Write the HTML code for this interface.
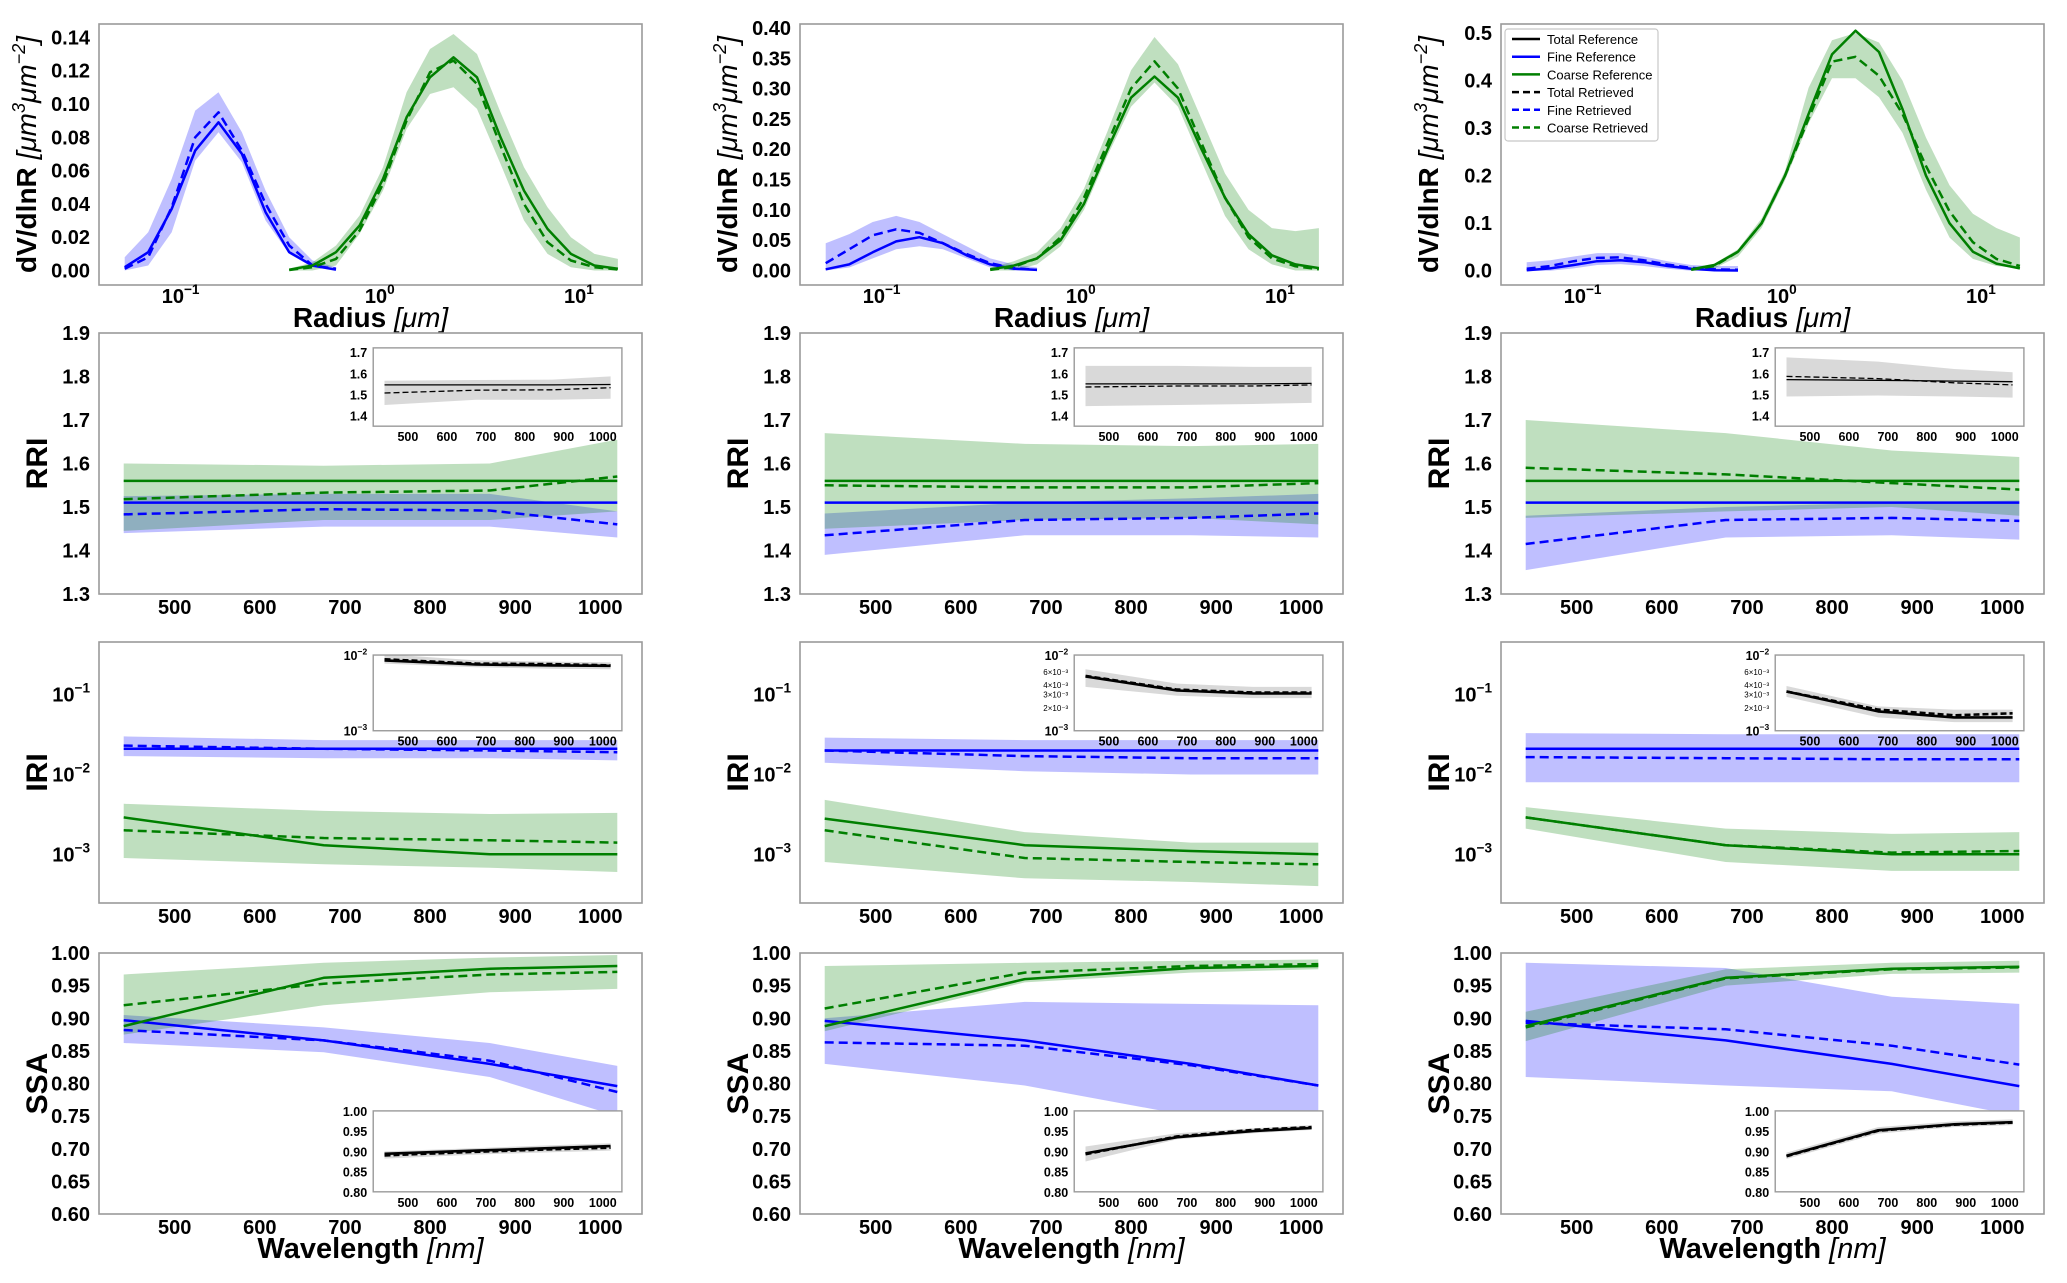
<!DOCTYPE html>
<html><head><meta charset="utf-8"><style>
html,body{margin:0;padding:0;background:#fff;}
svg{display:block;font-family:"Liberation Sans","DejaVu Sans",sans-serif;}
</style></head>
<body>
<svg id="fig" width="2067" height="1283" viewBox="0 0 2067 1283" xmlns="http://www.w3.org/2000/svg"></svg>
<script>
// ---------- data ----------
const radiiFine=[0.05,0.0656,0.0861,0.113,0.148,0.194,0.255,0.335,0.439,0.576];
const radiiCoarse=[0.335,0.439,0.576,0.756,0.992,1.302,1.708,2.241,2.94,3.857,5.061,6.641,8.713,11.43,15.0];
const wavelengths=[440,675,870,1020];
const sdYMax=[0.148,0.4065,0.519];
const sdYMin=[-0.0087,-0.0239,-0.03];
const sdYTicks=[[0,0.02,0.04,0.06,0.08,0.10,0.12,0.14],[0,0.05,0.10,0.15,0.20,0.25,0.30,0.35,0.40],[0,0.1,0.2,0.3,0.4,0.5]];
const sdYTickLabels=[["0.00","0.02","0.04","0.06","0.08","0.10","0.12","0.14"],["0.00","0.05","0.10","0.15","0.20","0.25","0.30","0.35","0.40"],["0.0","0.1","0.2","0.3","0.4","0.5"]];
const sdFineRef=[[0.002,0.011,0.037,0.072,0.089,0.070,0.035,0.011,0.003,0.0005],[0.002,0.01,0.03,0.048,0.055,0.045,0.025,0.01,0.003,0.001],[0.001,0.005,0.012,0.02,0.022,0.018,0.01,0.004,0.001,0.0005]];
const sdFineRet=[[0.001,0.008,0.038,0.080,0.095,0.072,0.040,0.015,0.003,0.001],[0.012,0.035,0.058,0.068,0.062,0.045,0.027,0.012,0.004,0.001],[0.004,0.01,0.02,0.027,0.028,0.022,0.013,0.006,0.003,0.002]];
const sdFineLo=[[0,0.003,0.023,0.066,0.083,0.065,0.03,0.01,0.002,0],[0,0.005,0.02,0.035,0.04,0.035,0.02,0.005,0,0],[0,0,0.005,0.012,0.014,0.01,0.004,0,0,0]];
const sdFineHi=[[0.008,0.023,0.055,0.096,0.107,0.083,0.048,0.02,0.006,0.002],[0.045,0.06,0.08,0.09,0.08,0.06,0.04,0.02,0.01,0.005],[0.018,0.022,0.03,0.037,0.037,0.03,0.02,0.012,0.01,0.01]];
const sdCoarseRef=[[0.0005,0.003,0.011,0.027,0.055,0.092,0.116,0.128,0.116,0.080,0.048,0.025,0.010,0.003,0.001],[0.002,0.008,0.02,0.05,0.11,0.2,0.285,0.32,0.285,0.2,0.12,0.06,0.025,0.01,0.004],[0.003,0.012,0.04,0.1,0.2,0.33,0.455,0.505,0.46,0.34,0.2,0.1,0.04,0.015,0.005]];
const sdCoarseRet=[[0.0003,0.002,0.007,0.024,0.052,0.090,0.119,0.126,0.112,0.075,0.040,0.017,0.006,0.002,0.0006],[0.001,0.006,0.02,0.055,0.12,0.21,0.3,0.345,0.3,0.21,0.12,0.055,0.02,0.007,0.002],[0.002,0.01,0.04,0.1,0.2,0.32,0.44,0.45,0.41,0.33,0.22,0.125,0.06,0.025,0.01]];
const sdCoarseLo=[[0,0,0.003,0.022,0.048,0.085,0.106,0.110,0.097,0.064,0.030,0.010,0.002,0,0],[0,0,0.01,0.04,0.1,0.19,0.27,0.31,0.27,0.18,0.09,0.035,0.01,0,0],[0,0.005,0.03,0.09,0.19,0.31,0.405,0.405,0.365,0.29,0.17,0.07,0.025,0.01,0.005]];
const sdCoarseHi=[[0.001,0.005,0.015,0.033,0.062,0.107,0.133,0.142,0.130,0.095,0.062,0.038,0.020,0.010,0.007],[0.005,0.015,0.03,0.07,0.135,0.23,0.33,0.385,0.34,0.25,0.16,0.1,0.07,0.065,0.07],[0.006,0.015,0.045,0.11,0.21,0.385,0.485,0.5,0.48,0.4,0.28,0.18,0.12,0.09,0.07]];

const rriFineRef=[[1.51,1.51,1.51,1.51],[1.51,1.51,1.51,1.51],[1.51,1.51,1.51,1.51]];
const rriFineRet=[[1.483,1.495,1.492,1.46],[1.435,1.47,1.475,1.485],[1.415,1.47,1.475,1.468]];
const rriFineLo=[[1.44,1.455,1.455,1.43],[1.39,1.435,1.435,1.43],[1.355,1.43,1.435,1.425]];
const rriFineHi=[[1.525,1.53,1.53,1.49],[1.485,1.51,1.52,1.53],[1.48,1.50,1.51,1.515]];
const rriCoarseRef=[[1.56,1.56,1.56,1.56],[1.56,1.56,1.56,1.56],[1.56,1.56,1.56,1.56]];
const rriCoarseRet=[[1.518,1.533,1.538,1.57],[1.55,1.545,1.545,1.555],[1.59,1.575,1.555,1.54]];
const rriCoarseLo=[[1.445,1.47,1.47,1.49],[1.45,1.47,1.475,1.46],[1.475,1.49,1.5,1.48]];
const rriCoarseHi=[[1.60,1.595,1.60,1.655],[1.67,1.645,1.64,1.645],[1.70,1.67,1.63,1.615]];
const rriTotRef=[[1.545,1.545,1.545,1.547],[1.55,1.55,1.55,1.552],[1.57,1.567,1.563,1.56]];
const rriTotRet=[[1.507,1.52,1.522,1.532],[1.535,1.54,1.54,1.545],[1.585,1.575,1.555,1.545]];
const rriTotLo=[[1.45,1.475,1.475,1.48],[1.445,1.45,1.455,1.46],[1.49,1.495,1.49,1.485]];
const rriTotHi=[[1.565,1.568,1.57,1.585],[1.635,1.635,1.63,1.63],[1.675,1.655,1.62,1.605]];

const iriFineRef=[[0.021,0.021,0.021,0.021],[0.02,0.02,0.02,0.02],[0.021,0.021,0.021,0.021]];
const iriFineRet=[[0.023,0.021,0.020,0.019],[0.02,0.017,0.016,0.016],[0.0165,0.016,0.0155,0.0155]];
const iriFineLo=[[0.017,0.016,0.016,0.015],[0.014,0.011,0.01,0.01],[0.008,0.008,0.008,0.008]];
const iriFineHi=[[0.03,0.027,0.027,0.027],[0.029,0.027,0.027,0.027],[0.033,0.032,0.032,0.032]];
const iriCoarseRef=[[0.0029,0.0013,0.001,0.001],[0.0028,0.0013,0.0011,0.001],[0.0029,0.0013,0.001,0.001]];
const iriCoarseRet=[[0.002,0.0016,0.0015,0.0014],[0.002,0.0009,0.0008,0.00075],[0.0029,0.0013,0.00105,0.0011]];
const iriCoarseLo=[[0.0009,0.00075,0.00068,0.0006],[0.0008,0.0005,0.00045,0.0004],[0.0021,0.0008,0.00062,0.00062]];
const iriCoarseHi=[[0.0043,0.0035,0.0032,0.0033],[0.0048,0.0019,0.0014,0.0014],[0.0039,0.0021,0.0018,0.0019]];
const iriTotRef=[[0.0085,0.0075,0.0073,0.0072],[0.0052,0.0034,0.0031,0.0031],[0.0033,0.0018,0.0015,0.0015]];
const iriTotRet=[[0.0088,0.0077,0.0076,0.0073],[0.0053,0.0035,0.0032,0.0032],[0.0033,0.0019,0.0016,0.0017]];
const iriTotLo=[[0.0077,0.0069,0.0066,0.0065],[0.0038,0.0029,0.0027,0.0027],[0.0028,0.0015,0.0013,0.0013]];
const iriTotHi=[[0.0103,0.0085,0.0082,0.008],[0.0065,0.0042,0.0038,0.0038],[0.0039,0.0021,0.0019,0.0019]];

const ssaFineRef=[[0.897,0.866,0.83,0.796],[0.896,0.866,0.83,0.797],[0.896,0.866,0.83,0.796]];
const ssaFineRet=[[0.882,0.866,0.835,0.787],[0.863,0.858,0.828,0.797],[0.893,0.883,0.858,0.829]];
const ssaFineLo=[[0.862,0.848,0.81,0.75],[0.83,0.797,0.75,0.72],[0.81,0.797,0.788,0.75]];
const ssaFineHi=[[0.905,0.886,0.862,0.827],[0.9,0.925,0.922,0.92],[0.985,0.977,0.933,0.922]];
const ssaCoarseRef=[[0.888,0.962,0.976,0.98],[0.888,0.96,0.977,0.98],[0.888,0.962,0.976,0.979]];
const ssaCoarseRet=[[0.92,0.953,0.967,0.971],[0.915,0.97,0.98,0.983],[0.886,0.961,0.975,0.978]];
const ssaCoarseLo=[[0.875,0.92,0.94,0.945],[0.88,0.955,0.97,0.975],[0.865,0.95,0.968,0.97]];
const ssaCoarseHi=[[0.967,0.985,0.993,0.997],[0.98,0.985,0.988,0.99],[0.91,0.975,0.985,0.988]];
const ssaTotRef=[[0.894,0.902,0.908,0.913],[0.895,0.935,0.95,0.958],[0.889,0.952,0.967,0.972]];
const ssaTotRet=[[0.89,0.899,0.905,0.909],[0.893,0.937,0.953,0.96],[0.888,0.951,0.966,0.971]];
const ssaTotLo=[[0.882,0.892,0.898,0.902],[0.875,0.93,0.945,0.953],[0.881,0.944,0.96,0.965]];
const ssaTotHi=[[0.9,0.908,0.915,0.92],[0.912,0.945,0.957,0.965],[0.897,0.96,0.974,0.979]];

const wlTicks=[500,600,700,800,900,1000];
const rriTicks=[1.3,1.4,1.5,1.6,1.7,1.8,1.9];
const rriInsetTicks=[1.4,1.5,1.6,1.7];
const ssaTicks=[0.60,0.65,0.70,0.75,0.80,0.85,0.90,0.95,1.00];
const ssaInsetTicks=[0.80,0.85,0.90,0.95,1.00];
const radiusTickExp=[-1,0,1];
const iriTickExp=[-1,-2,-3];
const legendLabels=["Total Reference","Fine Reference","Coarse Reference","Total Retrieved","Fine Retrieved","Coarse Retrieved"];

// ---------- drawing ----------
const NS="http://www.w3.org/2000/svg";
const svg=document.getElementById('fig');
const colX=[99,800,1501], PW=543, rowY=[24,333,642,953], PH=261;
const BLUE="#0000ff", GREEN="#007f00", BLACK="#000";
function mk(tag,attrs,parent){const e=document.createElementNS(NS,tag);for(const k in attrs)e.setAttribute(k,attrs[k]);(parent||svg).appendChild(e);return e;}
function scale(type,d0,d1,r0,r1){
  if(type==='log'){const a=Math.log10(d0),b=Math.log10(d1);return v=>r0+(Math.log10(v)-a)/(b-a)*(r1-r0);}
  return v=>r0+(v-d0)/(d1-d0)*(r1-r0);
}
function band(g,xs,lo,hi,sx,sy,color,op,name){
  const pts=xs.map((x,i)=>sx(x).toFixed(1)+","+sy(hi[i]).toFixed(1)).concat(xs.map((x,i)=>sx(x).toFixed(1)+","+sy(lo[i]).toFixed(1)).reverse());
  const p=mk('polygon',{points:pts.join(' '),fill:color,'fill-opacity':op,stroke:'none'},g);
  
  
}
function line(g,xs,ys,sx,sy,color,dash,w,name){
  const pts=xs.map((x,i)=>sx(x).toFixed(1)+","+sy(ys[i]).toFixed(1)).join(' ');
  const a={points:pts,fill:'none',stroke:color,'stroke-width':w,'stroke-linejoin':'round'};
  if(dash)a['stroke-dasharray']=dash;
  const p=mk('polyline',a,g);
  
  
}
function text(g,x,y,str,size,anchor,weight,name,extra){
  const a={x:x,y:y,'font-size':size,'text-anchor':anchor||'middle','font-weight':weight||'bold',fill:'#000'};
  if(extra)for(const k in extra)a[k]=extra[k];
  const t=mk('text',a,g);t.textContent=str;
  
  
  return t;
}
function powText(g,x,y,exp,size,anchor,weight,name){
  const t=mk('text',{x:x,y:y,'font-size':size,'text-anchor':anchor,'font-weight':weight,fill:'#000'},g);
  
  
  const a=mk('tspan',{},t);a.textContent="10";
  const b=mk('tspan',{dy:-size*0.45,'font-size':size*0.68},t);b.textContent="\u2212"+Math.abs(exp);
  if(exp>=0)b.textContent=String(exp);
  return t;
}
function frame(g,x,y,w,h,name,sw){
  const r=mk('rect',{x:x,y:y,width:w,height:h,fill:'none',stroke:'#9a9a9a','stroke-width':sw||1.6},g);
  
  
}
function group(name){const g=mk('g',{});return g;}
function clip(id,x,y,w,h){const d=mk('clipPath',{id:id});mk('rect',{x:x,y:y,width:w,height:h},d);}

const WL0=411, WL1=1049;
for(let c=0;c<3;c++){
  const x0=colX[c], x1=x0+PW;
  {
    const y0=rowY[0], y1=y0+PH;
    const g=group('size-distribution-panel-'+(c+1));
    clip('cs'+c,x0,y0,PW,PH);
    const sx=scale('log',Math.pow(10,-1.43),Math.pow(10,1.297),x0,x1);
    const sy=scale('lin',sdYMin[c],sdYMax[c],y1,y0);
    const pg=mk('g',{'clip-path':'url(#cs'+c+')'},g);
    band(pg,radiiFine,sdFineLo[c],sdFineHi[c],sx,sy,BLUE,0.25,'fine-uncertainty-band');
    band(pg,radiiCoarse,sdCoarseLo[c],sdCoarseHi[c],sx,sy,'#008000',0.25,'coarse-uncertainty-band');
    line(pg,radiiFine,sdFineRef[c],sx,sy,BLUE,null,2.5,'fine-reference-line');
    line(pg,radiiFine,sdFineRet[c],sx,sy,BLUE,'9,5',2.5,'fine-retrieved-line');
    line(pg,radiiCoarse,sdCoarseRef[c],sx,sy,GREEN,null,2.5,'coarse-reference-line');
    line(pg,radiiCoarse,sdCoarseRet[c],sx,sy,GREEN,'9,5',2.5,'coarse-retrieved-line');
    frame(g,x0,y0,PW,PH,'size-distribution-frame');
    sdYTicks[c].forEach((v,i)=>{text(g,x0-9,sy(v)+7,sdYTickLabels[c][i],20,'end','bold','y-tick-label');});
    radiusTickExp.forEach(e=>{powText(g,sx(Math.pow(10,e))-4,y1+18,e,20,'middle','bold','x-tick-label');});
    const xl=mk('text',{x:x0+PW/2,y:y1+42,'font-size':28,'text-anchor':'middle',fill:'#000'},g);
    
    
    const t1=mk('tspan',{'font-weight':'bold'},xl);t1.textContent="Radius  ";
    const t2=mk('tspan',{'font-style':'italic'},xl);t2.textContent="[\u03bcm]";
    const yl=mk('text',{x:0,y:0,'font-size':28,'text-anchor':'middle',fill:'#000',transform:'translate('+(x0-63)+','+(y0+PH/2)+') rotate(-90)'},g);
    
    
    const a1=mk('tspan',{'font-weight':'bold'},yl);a1.textContent="dV/dlnR ";
    const a2=mk('tspan',{'font-style':'italic'},yl);a2.textContent="[\u03bcm";
    const a3=mk('tspan',{'font-style':'italic',dy:-11,'font-size':18},yl);a3.textContent="3";
    const a4=mk('tspan',{'font-style':'italic',dy:11},yl);a4.textContent="\u03bcm";
    const a5=mk('tspan',{'font-style':'italic',dy:-11,'font-size':18},yl);a5.textContent="\u22122";
    const a6=mk('tspan',{'font-style':'italic',dy:11},yl);a6.textContent="]";
    if(c===2){
      const lg=group('legend');
      const lb=mk('rect',{x:1505,y:29,width:153,height:112,rx:3,fill:'#fff',stroke:'#c8c8c8','stroke-width':1.2},lg);
      
      
      const cols=[BLACK,BLUE,GREEN,BLACK,BLUE,GREEN];
      legendLabels.forEach((lab,i)=>{
        const yy=39+i*17.7;
        const l=mk('line',{x1:1512,x2:1540,y1:yy,y2:yy,stroke:cols[i],'stroke-width':2.5,'stroke-dasharray':i>2?'7,4':'none'},lg);
        
        
        text(lg,1547,yy+5,lab,13,'start','normal','legend-entry');
      });
    }
  }
  const specs=[
    {row:1,type:'lin',d:[1.3,1.9],name:'rri',label:'RRI',
     fr:rriFineRef,ft:rriFineRet,fl:rriFineLo,fh:rriFineHi,cr:rriCoarseRef,ct:rriCoarseRet,cl:rriCoarseLo,ch:rriCoarseHi,
     tr:rriTotRef,tt:rriTotRet,tl:rriTotLo,th:rriTotHi,inset:{top:0.057,h:0.30,type:'lin',d:[1.35,1.72]}},
    {row:2,type:'log',d:[Math.pow(10,-3.61),Math.pow(10,-0.34)],name:'iri',label:'IRI',
     fr:iriFineRef,ft:iriFineRet,fl:iriFineLo,fh:iriFineHi,cr:iriCoarseRef,ct:iriCoarseRet,cl:iriCoarseLo,ch:iriCoarseHi,
     tr:iriTotRef,tt:iriTotRet,tl:iriTotLo,th:iriTotHi,inset:{top:0.05,h:0.29,type:'log',d:[0.001,0.01]}},
    {row:3,type:'lin',d:[0.6,1.0],name:'ssa',label:'SSA',
     fr:ssaFineRef,ft:ssaFineRet,fl:ssaFineLo,fh:ssaFineHi,cr:ssaCoarseRef,ct:ssaCoarseRet,cl:ssaCoarseLo,ch:ssaCoarseHi,
     tr:ssaTotRef,tt:ssaTotRet,tl:ssaTotLo,th:ssaTotHi,inset:{top:0.605,h:0.31,type:'lin',d:[0.8,1.0]}}
  ];
  specs.forEach(s=>{
    const y0=rowY[s.row], y1=y0+PH;
    const g=group(s.name+'-panel-'+(c+1));
    const cid='c'+s.name+c;
    clip(cid,x0,y0,PW,PH);
    const sx=scale('lin',WL0,WL1,x0,x1);
    const sy=scale(s.type,s.d[0],s.d[1],y1,y0);
    const pg=mk('g',{'clip-path':'url(#'+cid+')'},g);
    band(pg,wavelengths,s.fl[c],s.fh[c],sx,sy,BLUE,0.25,'fine-uncertainty-band');
    band(pg,wavelengths,s.cl[c],s.ch[c],sx,sy,'#008000',0.25,'coarse-uncertainty-band');
    line(pg,wavelengths,s.fr[c],sx,sy,BLUE,null,2.5,'fine-reference-line');
    line(pg,wavelengths,s.ft[c],sx,sy,BLUE,'9,5',2.5,'fine-retrieved-line');
    line(pg,wavelengths,s.cr[c],sx,sy,GREEN,null,2.5,'coarse-reference-line');
    line(pg,wavelengths,s.ct[c],sx,sy,GREEN,'9,5',2.5,'coarse-retrieved-line');
    frame(g,x0,y0,PW,PH,s.name+'-frame');
    if(s.name==='rri') rriTicks.forEach(v=>text(g,x0-9,sy(v)+7,v.toFixed(1),20,'end','bold','y-tick-label'));
    if(s.name==='ssa') ssaTicks.forEach(v=>text(g,x0-9,sy(v)+7,v.toFixed(2),20,'end','bold','y-tick-label'));
    if(s.name==='iri') iriTickExp.forEach(e=>powText(g,x0-9,sy(Math.pow(10,e))+7,e,20,'end','bold','y-tick-label'));
    wlTicks.forEach(v=>text(g,sx(v),y1+20,String(v),20,'middle','bold','x-tick-label'));
    text(g,0,0,s.label,30,'middle','bold','y-axis-title',{transform:'translate('+(x0-52)+','+(y0+PH/2)+') rotate(-90)'});
    if(s.row===3){
      const xl=mk('text',{x:x0+PW/2,y:y1+44,'font-size':29,'text-anchor':'middle',fill:'#000'},g);
      
      
      const t1=mk('tspan',{'font-weight':'bold'},xl);t1.textContent="Wavelength ";
      const t2=mk('tspan',{'font-style':'italic'},xl);t2.textContent="[nm]";
    }
    const ins=s.inset;
    const ix0=x0+PW*0.505, iw=PW*0.458, iy0=y0+PH*ins.top, ih=PH*ins.h;
    const ig=group(s.name+'-inset');
    mk('rect',{x:ix0,y:iy0,width:iw,height:ih,fill:'#fff'},ig);
    const icid='ci'+s.name+c;
    clip(icid,ix0,iy0,iw,ih);
    const isx=scale('lin',WL0,WL1,ix0,ix0+iw);
    const isy=scale(ins.type,ins.d[0],ins.d[1],iy0+ih,iy0);
    const ipg=mk('g',{'clip-path':'url(#'+icid+')'},ig);
    band(ipg,wavelengths,s.tl[c],s.th[c],isx,isy,'#808080',0.3,'total-uncertainty-band');
    line(ipg,wavelengths,s.tr[c],isx,isy,BLACK,null,s.name==='rri'?1.3:2.6,'total-reference-line');
    line(ipg,wavelengths,s.tt[c],isx,isy,BLACK,'6,3',s.name==='rri'?1.3:2.6,'total-retrieved-line');
    frame(ig,ix0,iy0,iw,ih,'inset-frame',1.4);
    wlTicks.forEach(v=>text(ig,isx(v),iy0+ih+15,String(v),12.5,'middle','bold','inset-x-tick-label'));
    if(s.name==='rri') rriInsetTicks.forEach(v=>text(ig,ix0-6,isy(v)+5,v.toFixed(1),12.5,'end','bold','inset-y-tick-label'));
    if(s.name==='ssa') ssaInsetTicks.forEach(v=>text(ig,ix0-6,isy(v)+5,v.toFixed(2),12.5,'end','bold','inset-y-tick-label'));
    if(s.name==='iri'){
      [-2,-3].forEach(e=>powText(ig,ix0-6,isy(Math.pow(10,e))+5,e,12.5,'end','bold','inset-y-tick-label'));
      if(c>0)[2,3,4,6].forEach(m=>{
        const t=mk('text',{x:ix0-6,y:isy(m*0.001)+3,'font-size':8,'text-anchor':'end',fill:'#000'},ig);
        
        
        t.textContent=m+"\u00d710\u207b\u00b3";
      });
    }
  });
}
</script>
</body></html>
